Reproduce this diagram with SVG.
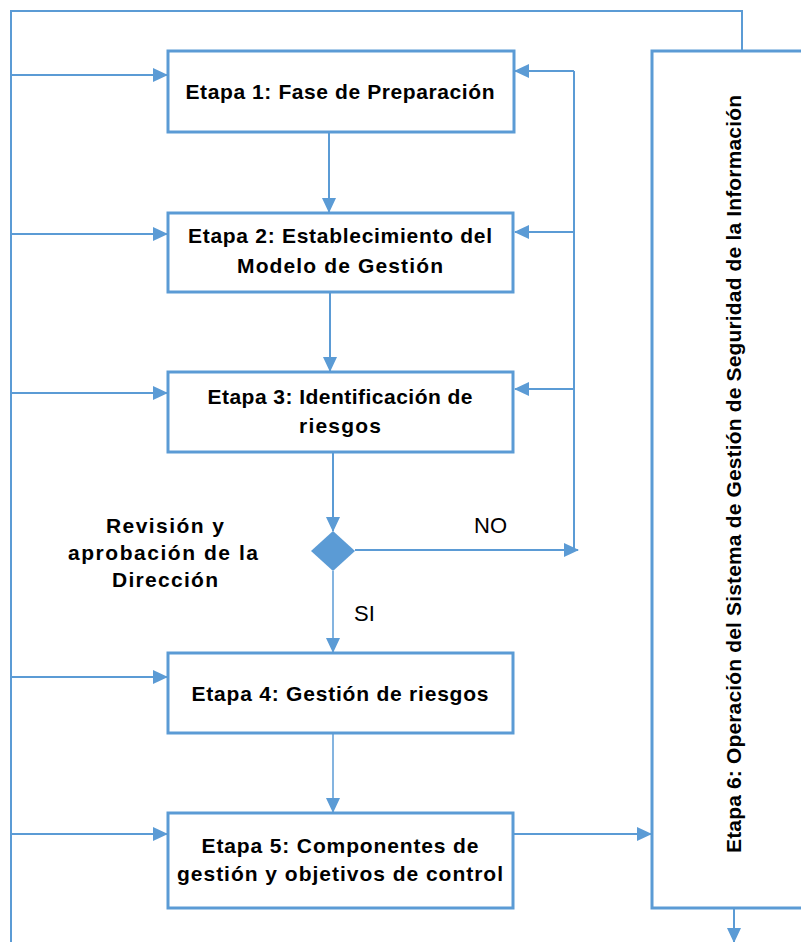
<svg xmlns="http://www.w3.org/2000/svg" width="801" height="942" viewBox="0 0 801 942">
  <style>
    .box { fill: #ffffff; stroke: #5B9BD5; stroke-width: 3; }
    .wire { fill: none; stroke: #5B9BD5; stroke-width: 2; }
    .arr { marker-end: url(#head); }
    .t { font-family: "Liberation Sans", Arial, sans-serif; font-weight: bold; font-size: 21px; fill: #000; text-anchor: middle; }
    .lbl { font-family: "Liberation Sans", Arial, sans-serif; font-size: 22px; fill: #000; }
  </style>
  <defs>
    <marker id="head" markerUnits="userSpaceOnUse" markerWidth="15" markerHeight="14" refX="14" refY="7" orient="auto">
      <path d="M0,0 L15,7 L0,14 Z" fill="#5B9BD5"/>
    </marker>
  </defs>
  <rect width="801" height="942" fill="#ffffff"/>

  <!-- connectors -->
  <g id="connectors">
    <!-- outer loop from stage 6 back to the left rail -->
    <polyline class="wire" points="742,51 742,11 11,11 11,942"/>
    <!-- left rail feeds into each stage -->
    <line class="wire arr" x1="11" y1="75" x2="167" y2="75"/>
    <line class="wire arr" x1="11" y1="234" x2="167" y2="234"/>
    <line class="wire arr" x1="11" y1="393" x2="167" y2="393"/>
    <line class="wire arr" x1="11" y1="677" x2="167" y2="677"/>
    <line class="wire arr" x1="11" y1="834" x2="167" y2="834"/>
    <!-- main downward flow -->
    <line class="wire arr" x1="329" y1="132" x2="329" y2="212"/>
    <line class="wire arr" x1="330" y1="292" x2="330" y2="371"/>
    <line class="wire arr" x1="333" y1="452" x2="333" y2="531"/>
    <line class="wire arr" x1="333" y1="571" x2="333" y2="652" stroke-opacity="0.75"/>
    <line class="wire arr" x1="333" y1="733" x2="333" y2="812" stroke-opacity="0.75"/>
    <!-- NO branch and feedback to stages 1-3 -->
    <line class="wire arr" x1="355" y1="550" x2="578" y2="550"/>
    <line class="wire" x1="574" y1="71" x2="574" y2="550"/>
    <line class="wire arr" x1="574" y1="71" x2="515" y2="71"/>
    <line class="wire arr" x1="574" y1="232" x2="515" y2="232"/>
    <line class="wire arr" x1="574" y1="389" x2="515" y2="389"/>
    <!-- stage 5 to stage 6, and stage 6 output -->
    <line class="wire arr" x1="513" y1="834" x2="651" y2="834"/>
    <line class="wire arr" x1="734" y1="908" x2="734" y2="942"/>
  </g>

  <g id="stage1">
    <rect class="box" x="168" y="51" width="346" height="81"/>
    <text class="t" x="340" y="99" textLength="309">Etapa 1: Fase de Preparación</text>
  </g>

  <g id="stage2">
    <rect class="box" x="168" y="213" width="345" height="79"/>
    <text class="t" x="340" y="243" textLength="304">Etapa 2: Establecimiento del</text>
    <text class="t" x="340" y="273" textLength="206">Modelo de Gestión</text>
  </g>

  <g id="stage3">
    <rect class="box" x="168" y="372" width="345" height="80"/>
    <text class="t" x="340" y="404" textLength="265">Etapa 3: Identificación de</text>
    <text class="t" x="340" y="433" textLength="82">riesgos</text>
  </g>

  <g id="review">
    <polygon points="333,531 355,551 333,571 311,551" fill="#5B9BD5"/>
    <text class="t" x="165" y="533" textLength="118">Revisión y</text>
    <text class="t" x="163" y="560" textLength="190">aprobación de la</text>
    <text class="t" x="165" y="587" textLength="106">Dirección</text>
    <text class="lbl" x="474" y="533">NO</text>
    <text class="lbl" x="354" y="621">SI</text>
  </g>

  <g id="stage4">
    <rect class="box" x="168" y="653" width="345" height="80"/>
    <text class="t" x="340" y="701" textLength="297">Etapa 4: Gestión de riesgos</text>
  </g>

  <g id="stage5">
    <rect class="box" x="168" y="813" width="345" height="95"/>
    <text class="t" x="340" y="853" textLength="277">Etapa 5: Componentes de</text>
    <text class="t" x="340" y="881" textLength="326">gestión y objetivos de control</text>
  </g>

  <g id="stage6">
    <rect class="box" x="652" y="51" width="160" height="857"/>
    <text class="t" transform="translate(741,474) rotate(-90)" x="0" y="0" textLength="758">Etapa 6: Operación del Sistema de Gestión de Seguridad de la Información</text>
  </g>
</svg>
